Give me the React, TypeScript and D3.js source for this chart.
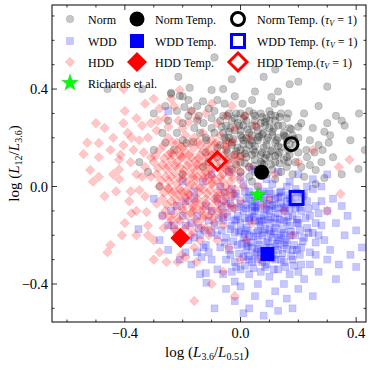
import React from 'react';
import * as d3 from 'd3';

// point clouds: [log(L3.6/L0.51), log(L12/L3.6)]
const normPoints: [number, number][] = [
  [-0.09,0.53],[0.12,0.48],[-0.215,0.45],[0.08,0.45],[0.3,0.41],[-0.46,0.40],[-0.34,0.40],[-0.176,0.405],[-0.1,0.396],[-0.24,0.385],[-0.06,0.40],[0.05,0.39],[0.13,0.39],[-0.2,0.37],[0.2,0.43],[-0.03,0.44],[0.17,0.42],
  [-0.24,0.38],[-0.21,0.372],[-0.18,0.355],[-0.194,0.326],[-0.17,0.31],[-0.22,0.31],[-0.145,0.29],[-0.18,0.29],[-0.11,0.32],[-0.128,0.26],[-0.08,0.355],[-0.055,0.34],[-0.02,0.37],[0.007,0.34],[0.04,0.355],[0.107,0.367],[0.14,0.347],[0.118,0.34],[-0.13,0.35],[-0.09,0.31],[-0.06,0.29],[-0.15,0.33],[-0.26,0.33],[-0.3,0.3],[-0.25,0.27],
  [-0.35,0.1],[-0.28,0.0],[-0.2,0.19],[-0.187,0.178],[-0.163,0.183],[-0.118,0.19],[-0.14,0.22],[-0.1,0.24],[-0.16,0.24],[-0.12,0.14],[-0.22,0.22],[-0.26,0.18],[-0.3,0.15],[-0.08,0.12],[-0.2,0.05],[-0.32,0.06],[-0.13,0.08],
  [-0.07,0.27],[-0.05,0.25],[-0.04,0.3],[-0.02,0.28],[0.0,0.3],[0.02,0.27],[0.03,0.31],[0.05,0.29],[0.07,0.3],[0.09,0.28],[0.1,0.31],[0.12,0.29],[0.14,0.3],[0.16,0.28],
  [-0.06,0.22],[-0.04,0.2],[-0.02,0.23],[0.0,0.21],[0.01,0.25],[0.03,0.22],[0.04,0.25],[0.06,0.23],[0.07,0.26],[0.08,0.22],[0.1,0.24],[0.11,0.21],[0.13,0.25],[0.15,0.22],[0.17,0.24],[0.18,0.21],
  [-0.07,0.17],[-0.05,0.15],[-0.03,0.18],[-0.01,0.16],[0.01,0.19],[0.02,0.15],[0.04,0.18],[0.05,0.14],[0.06,0.19],[0.08,0.16],[0.09,0.19],[0.11,0.15],[0.12,0.18],[0.14,0.16],[0.16,0.19],[0.19,0.17],
  [-0.04,0.11],[-0.02,0.13],[0.0,0.1],[0.02,0.12],[0.03,0.08],[0.05,0.11],[0.07,0.13],[0.08,0.09],[0.1,0.12],[0.12,0.1],[0.13,0.13],[0.15,0.11],[0.17,0.13],[0.19,0.1],
  [0.0,0.06],[0.03,0.04],[0.06,0.07],[0.09,0.05],[0.11,0.07],[0.14,0.06],[0.16,0.08],[0.04,0.02],[0.12,0.03],[-0.03,0.07],[0.18,0.05],
  [-0.01,0.26],[0.06,0.2],[0.03,0.17],[0.09,0.13],[0.0,0.15],[0.07,0.1],[0.13,0.2],[0.05,0.06],[-0.05,0.19],[0.1,0.27],[0.02,0.2],
  [0.22,0.3],[0.33,0.29],[0.35,0.27],[0.36,0.25],[0.41,0.3],[0.29,0.225],[0.24,0.19],[0.27,0.17],[0.305,0.18],[0.228,0.15],[0.256,0.14],[0.284,0.15],[0.28,0.1],[0.26,0.068],[0.24,0.088],[0.29,0.035],[0.408,0.072],[0.21,0.26],[0.25,0.24],[0.23,0.12],[0.21,0.08],[0.32,0.12],[0.38,0.19],[0.43,0.15],[0.27,0.33],[0.3,0.26],[0.2,0.2],[0.22,0.04],[0.35,0.05],[0.26,0.01],[0.31,0.21],
  [-0.045,0.29],[-0.015,0.3],[0.015,0.29],[0.045,0.3],[0.075,0.285],[0.105,0.295],[0.135,0.285],[0.165,0.3],
  [-0.065,0.245],[-0.035,0.24],[-0.005,0.25],[0.025,0.235],[0.055,0.245],[0.085,0.25],[0.115,0.24],[0.145,0.25],[0.175,0.235],[0.2,0.245],
  [-0.055,0.2],[-0.025,0.195],[0.005,0.2],[0.035,0.19],[0.065,0.205],[0.095,0.2],[0.125,0.19],[0.155,0.205],[0.185,0.195],
  [-0.045,0.14],[-0.015,0.145],[0.015,0.135],[0.045,0.15],[0.075,0.14],[0.105,0.145],[0.135,0.14],[0.165,0.15],[0.2,0.14],
  [-0.015,0.09],[0.015,0.095],[0.045,0.085],[0.075,0.095],[0.105,0.09],[0.135,0.095],[0.165,0.1],
  [-0.12,0.2],[-0.09,0.22],[-0.15,0.27],[-0.1,0.28],[-0.2,0.26],[-0.08,0.16],[-0.11,0.1],[-0.27,0.22],[-0.23,0.15],
  [-0.03,0.27],[0.01,0.28],[0.05,0.27],[0.085,0.265],[0.12,0.27],
  [-0.04,0.225],[0.0,0.23],[0.04,0.21],[0.075,0.215],[0.11,0.225],[0.15,0.21],
  [-0.03,0.17],[0.01,0.175],[0.05,0.165],[0.09,0.17],[0.13,0.165],[0.17,0.175],
  [0.0,0.125],[0.04,0.13],[0.085,0.115],[0.12,0.125],[0.16,0.12],
];

const wddPoints: [number, number][] = [
  [-0.25,0.31],[-0.353,-0.175],[-0.25,-0.16],[-0.19,-0.16],[-0.128,-0.25],[-0.135,-0.29],[-0.12,-0.355],[-0.118,-0.395],[-0.145,-0.17],[-0.125,-0.18],[-0.3,-0.05],[-0.22,-0.08],[-0.2,0.02],[-0.16,-0.05],[-0.1,0.05],[-0.28,-0.22],
  [-0.05,-0.42],[-0.02,-0.47],[0.01,-0.52],[0.03,-0.5],[0.05,-0.45],[0.08,-0.53],[0.1,-0.48],[0.13,-0.51],[0.16,-0.46],[0.18,-0.5],[-0.09,-0.5],[0.06,-0.4],[0.12,-0.43],[0.2,-0.42],[0.0,-0.41],[-0.06,-0.36],[0.22,-0.38],[0.15,-0.4],[0.25,-0.45],[-0.02,-0.39],
  [0.3,-0.1],[0.33,-0.15],[0.36,-0.2],[0.4,-0.18],[0.38,-0.28],[0.34,-0.32],[0.42,-0.25],[0.3,-0.3],[0.27,-0.35],[0.32,-0.05],[0.35,-0.08],[0.28,0.0],[0.3,0.05],[0.25,0.03],[0.37,-0.12],[0.29,-0.22],[0.31,-0.26],[0.26,-0.28],[0.4,-0.33],[0.33,-0.38],
  [-0.04,0.06],[0.0,0.04],[0.04,0.07],[0.09,0.03],[0.13,0.06],[0.17,0.02],[0.2,0.05],[0.23,0.0],
  [-0.07,0.0],[-0.03,-0.01],[0.01,0.01],[0.03,-0.02],[0.06,0.0],[0.08,-0.03],[0.11,0.01],[0.14,-0.02],[0.16,0.0],[0.19,-0.01],[0.22,-0.03],[0.25,-0.01],
  [-0.08,-0.05],[-0.05,-0.06],[-0.02,-0.04],[0.0,-0.07],[0.02,-0.05],[0.05,-0.06],[0.07,-0.04],[0.09,-0.07],[0.12,-0.05],[0.14,-0.07],[0.17,-0.05],[0.2,-0.07],[0.23,-0.06],[0.26,-0.08],
  [-0.1,-0.1],[-0.06,-0.11],[-0.03,-0.09],[-0.01,-0.12],[0.01,-0.1],[0.04,-0.11],[0.06,-0.09],[0.08,-0.12],[0.1,-0.1],[0.13,-0.11],[0.15,-0.09],[0.18,-0.12],[0.21,-0.1],[0.24,-0.12],[0.27,-0.11],
  [-0.09,-0.16],[-0.06,-0.14],[-0.03,-0.16],[0.0,-0.15],[0.02,-0.17],[0.05,-0.14],[0.07,-0.16],[0.1,-0.15],[0.12,-0.17],[0.15,-0.14],[0.17,-0.16],[0.2,-0.15],[0.23,-0.17],[0.26,-0.15],
  [-0.08,-0.2],[-0.05,-0.21],[-0.02,-0.19],[0.01,-0.21],[0.03,-0.2],[0.06,-0.22],[0.08,-0.19],[0.11,-0.21],[0.14,-0.2],[0.16,-0.22],[0.19,-0.2],[0.22,-0.21],[0.25,-0.19],
  [-0.07,-0.25],[-0.04,-0.26],[-0.01,-0.24],[0.02,-0.26],[0.04,-0.25],[0.07,-0.27],[0.1,-0.25],[0.13,-0.26],[0.15,-0.24],[0.18,-0.26],[0.21,-0.25],[0.24,-0.27],
  [-0.05,-0.3],[-0.02,-0.31],[0.01,-0.29],[0.04,-0.31],[0.06,-0.3],[0.09,-0.32],[0.12,-0.3],[0.15,-0.31],[0.18,-0.3],[0.21,-0.32],
  [-0.03,-0.35],[0.0,-0.34],[0.03,-0.36],[0.07,-0.35],[0.1,-0.37],[0.13,-0.34],[0.17,-0.36],[0.2,-0.35],
  [0.05,-0.1],[0.1,-0.18],[0.03,-0.13],[0.08,-0.06],[0.12,-0.13],[0.06,-0.18],[0.15,-0.19],[0.0,-0.18],[0.09,-0.23],[0.04,-0.08],[0.14,-0.04],[0.11,-0.08],[0.02,-0.23],[0.17,-0.09],[-0.02,-0.14],[0.07,-0.13],[0.13,-0.22],[0.19,-0.04],[0.05,-0.28],[0.1,-0.02],
  [-0.22,-0.2],[-0.18,-0.22],[-0.15,-0.12],[-0.12,-0.08],[-0.14,-0.2],[-0.11,-0.14],[-0.19,-0.27],[-0.17,-0.32],[-0.1,-0.3],[-0.12,-0.24],[-0.16,-0.02],[-0.13,0.02],[-0.2,-0.12],[-0.25,-0.26],
  [-0.055,-0.025],[-0.015,-0.03],[0.015,-0.02],[0.045,-0.035],[0.075,-0.02],[0.105,-0.03],[0.135,-0.025],[0.165,-0.035],[0.195,-0.025],[0.215,-0.04],
  [-0.065,-0.08],[-0.035,-0.07],[-0.005,-0.085],[0.025,-0.075],[0.055,-0.08],[0.085,-0.09],[0.115,-0.075],[0.145,-0.085],[0.175,-0.07],[0.205,-0.085],[0.235,-0.09],
  [-0.075,-0.13],[-0.045,-0.125],[-0.015,-0.135],[0.015,-0.13],[0.045,-0.125],[0.075,-0.14],[0.105,-0.125],[0.135,-0.135],[0.165,-0.125],[0.195,-0.135],[0.225,-0.13],
  [-0.065,-0.18],[-0.035,-0.175],[-0.005,-0.185],[0.025,-0.18],[0.055,-0.19],[0.085,-0.175],[0.115,-0.185],[0.145,-0.175],[0.175,-0.185],[0.205,-0.18],[0.235,-0.19],
  [-0.055,-0.23],[-0.025,-0.225],[0.005,-0.235],[0.035,-0.23],[0.065,-0.24],[0.095,-0.225],[0.125,-0.235],[0.155,-0.23],[0.185,-0.24],[0.215,-0.225],
  [-0.035,-0.28],[-0.005,-0.275],[0.025,-0.285],[0.055,-0.27],[0.085,-0.285],[0.115,-0.28],[0.145,-0.275],[0.175,-0.285],[0.205,-0.28],
  [-0.015,-0.33],[0.015,-0.325],[0.045,-0.335],[0.085,-0.33],[0.115,-0.34],[0.155,-0.33],[0.185,-0.325],
  [-0.24,-0.1],[-0.21,-0.3],[-0.17,-0.15],[-0.15,-0.27],[-0.1,-0.19],[-0.08,-0.34],[-0.23,-0.16],[-0.19,-0.06],[-0.14,-0.36],[-0.27,-0.12],[-0.11,-0.27],[-0.16,-0.21],
  [0.03,-0.045],[0.06,-0.05],[0.1,-0.055],[0.13,-0.045],[0.16,-0.06],
  [0.02,-0.09],[0.05,-0.085],[0.09,-0.095],[0.12,-0.09],[0.155,-0.1],[0.19,-0.09],
  [0.03,-0.14],[0.065,-0.145],[0.095,-0.135],[0.125,-0.15],[0.16,-0.145],[0.195,-0.15],
  [0.015,-0.195],[0.045,-0.205],[0.075,-0.2],[0.105,-0.195],[0.135,-0.21],[0.17,-0.2],
  [0.025,-0.245],[0.06,-0.255],[0.09,-0.26],[0.12,-0.245],[0.16,-0.255],[0.195,-0.26],
  [0.03,-0.3],[0.075,-0.31],[0.11,-0.295],[0.14,-0.3],
  [0.27,-0.2],[0.28,-0.16],[0.26,-0.23],[0.24,-0.32],[0.28,-0.06],
];

const hddPoints: [number, number][] = [
  [-0.543,0.133],[-0.52,0.068],[-0.49,0.178],[-0.49,0.12],[-0.51,0.02],[-0.49,0.04],[-0.47,-0.04],[-0.44,0.2],[-0.42,0.11],[-0.415,0.13],[-0.42,0.07],[-0.42,0.03],[-0.405,0.17],[-0.4,0.31],[-0.405,0.26],[-0.385,-0.06],[-0.37,0.15],[-0.377,0.2],[-0.34,0.25],[-0.33,0.34],[-0.35,0.19],[-0.31,0.26],[-0.285,0.27],[-0.26,0.28],[-0.25,0.245],[-0.215,0.27],[-0.18,0.265],[-0.29,0.23],[-0.32,0.2],[-0.335,0.14],[-0.31,0.12],[-0.33,0.08],[-0.34,0.04],[-0.31,0.04],[-0.35,-0.015],
  [-0.405,0.4],[-0.21,0.396],[-0.3,0.36],[-0.23,0.33],
  [-0.377,-0.11],[-0.36,-0.2],[-0.46,-0.27],[-0.45,-0.24],[-0.32,-0.16],[-0.32,-0.2],[-0.3,-0.22],[-0.28,-0.27],[-0.256,-0.31],[-0.218,-0.31],[-0.204,-0.28],[-0.19,-0.29],[-0.16,-0.25],[-0.152,-0.31],[-0.16,-0.47],[-0.266,-0.17],[-0.325,-0.105],[-0.27,-0.12],[-0.24,-0.14],[-0.22,-0.18],[-0.29,-0.07],[-0.33,-0.04],
  [-0.25,0.2],[-0.22,0.18],[-0.19,0.21],[-0.16,0.2],[-0.13,0.22],[-0.1,0.19],[-0.07,0.21],[-0.04,0.18],
  [-0.28,0.15],[-0.25,0.13],[-0.22,0.15],[-0.19,0.14],[-0.16,0.16],[-0.14,0.13],[-0.11,0.15],[-0.08,0.14],[-0.05,0.16],[-0.02,0.13],
  [-0.3,0.1],[-0.27,0.09],[-0.24,0.11],[-0.21,0.08],[-0.18,0.1],[-0.15,0.09],[-0.12,0.11],[-0.1,0.08],[-0.07,0.1],[-0.04,0.09],[-0.01,0.11],
  [-0.29,0.05],[-0.26,0.04],[-0.23,0.06],[-0.2,0.03],[-0.17,0.05],[-0.15,0.04],[-0.12,0.06],[-0.09,0.03],[-0.06,0.05],[-0.03,0.04],[0.0,0.06],
  [-0.28,0.0],[-0.25,-0.01],[-0.22,0.01],[-0.19,-0.02],[-0.16,0.0],[-0.13,-0.01],[-0.1,0.01],[-0.08,-0.02],[-0.05,0.0],[-0.02,-0.01],[0.01,0.0],
  [-0.27,-0.05],[-0.24,-0.06],[-0.21,-0.04],[-0.18,-0.06],[-0.15,-0.05],[-0.12,-0.07],[-0.09,-0.05],[-0.06,-0.06],[-0.03,-0.04],[0.0,-0.06],
  [-0.26,-0.1],[-0.23,-0.11],[-0.2,-0.09],[-0.17,-0.11],[-0.14,-0.1],[-0.11,-0.12],[-0.08,-0.1],[-0.05,-0.11],[-0.02,-0.09],
  [-0.24,-0.16],[-0.21,-0.14],[-0.18,-0.16],[-0.15,-0.15],[-0.12,-0.17],[-0.09,-0.15],[-0.06,-0.16],
  [-0.2,-0.21],[-0.17,-0.2],[-0.14,-0.22],[-0.11,-0.2],[-0.08,-0.22],
  [-0.2,0.12],[-0.15,0.07],[-0.1,0.13],[-0.18,-0.03],[-0.12,0.02],[-0.07,-0.03],[-0.14,0.17],[-0.23,-0.02],[-0.05,0.07],[-0.16,-0.08],[-0.09,0.17],[-0.13,-0.13],[-0.2,0.16],[-0.03,-0.08],[-0.11,0.04],
  [-0.15,0.28],[-0.12,0.3],[-0.08,0.26],[-0.05,0.29],[-0.02,0.24],[0.014,0.29],[-0.1,0.34],[-0.17,0.31],[-0.2,0.24],[-0.03,0.33],[0.03,0.2],[0.05,0.25],
  [0.377,0.11],[0.34,0.08],[0.346,-0.03],[0.03,0.08],[0.06,0.0],[0.08,-0.08],[0.04,-0.15],[0.1,-0.05],[0.02,-0.22],[0.12,0.05],[0.15,-0.1],[0.07,-0.3],[0.2,0.1],[0.18,-0.2],[0.25,0.15],[0.3,-0.1],
  [-0.04,-0.25],[0.0,-0.3],[-0.06,-0.35],[-0.1,-0.4],[-0.02,-0.45],
  [-0.265,0.17],[-0.235,0.18],[-0.205,0.165],[-0.175,0.18],[-0.145,0.185],[-0.115,0.17],[-0.085,0.18],[-0.055,0.17],[-0.025,0.185],
  [-0.295,0.125],[-0.265,0.115],[-0.235,0.13],[-0.205,0.12],[-0.175,0.135],[-0.145,0.115],[-0.115,0.125],[-0.085,0.12],[-0.055,0.13],[-0.025,0.115],[0.005,0.125],
  [-0.285,0.075],[-0.255,0.07],[-0.225,0.085],[-0.195,0.065],[-0.165,0.075],[-0.135,0.085],[-0.105,0.065],[-0.075,0.075],[-0.045,0.065],[-0.015,0.08],
  [-0.275,0.025],[-0.245,0.02],[-0.215,0.035],[-0.185,0.02],[-0.155,0.025],[-0.125,0.035],[-0.095,0.015],[-0.065,0.025],[-0.035,0.02],[-0.005,0.03],
  [-0.265,-0.025],[-0.235,-0.03],[-0.205,-0.02],[-0.175,-0.035],[-0.145,-0.025],[-0.115,-0.03],[-0.085,-0.04],[-0.055,-0.025],[-0.025,-0.03],
  [-0.255,-0.075],[-0.225,-0.08],[-0.195,-0.07],[-0.165,-0.085],[-0.135,-0.075],[-0.105,-0.085],[-0.075,-0.07],[-0.045,-0.08],
  [-0.245,-0.125],[-0.215,-0.13],[-0.185,-0.12],[-0.155,-0.135],[-0.125,-0.12],[-0.095,-0.13],[-0.065,-0.125],
  [-0.225,-0.18],[-0.195,-0.175],[-0.165,-0.185],[-0.135,-0.17],[-0.105,-0.18],
  [-0.45,0.15],[-0.47,0.24],[-0.44,0.05],[-0.38,0.1],[-0.36,0.28],[-0.39,0.22],[-0.43,-0.02],[-0.4,-0.15],[-0.36,0.05],[-0.38,-0.02],[-0.28,0.32],[-0.24,0.36],[-0.5,0.26],[-0.53,0.18],[-0.36,-0.1],[-0.3,-0.3],[-0.41,-0.2],
  [-0.24,0.14],[-0.21,0.13],[-0.17,0.12],[-0.13,0.145],[-0.09,0.135],[-0.05,0.11],
  [-0.25,0.085],[-0.22,0.1],[-0.185,0.085],[-0.155,0.105],[-0.12,0.09],[-0.085,0.095],[-0.05,0.085],
  [-0.24,0.04],[-0.2,0.05],[-0.165,0.04],[-0.13,0.05],[-0.1,0.045],[-0.07,0.04],[-0.03,0.055],
  [-0.25,-0.005],[-0.21,-0.01],[-0.175,0.005],[-0.14,-0.005],[-0.105,-0.015],[-0.07,0.005],[-0.04,-0.015],
  [-0.22,-0.055],[-0.19,-0.045],[-0.155,-0.06],[-0.12,-0.05],[-0.085,-0.06],[-0.05,-0.045],
  [-0.2,-0.1],[-0.165,-0.1],[-0.13,-0.095],[-0.1,-0.105],[-0.07,-0.095],
];

// template positions
const normTemp: [number, number] = [0.073, 0.059];
const normTempTau: [number, number] = [0.176, 0.174];
const wddTemp: [number, number] = [0.093, -0.277];
const wddTempTau: [number, number] = [0.194, -0.047];
const hddTemp: [number, number] = [-0.208, -0.211];
const hddTempTau: [number, number] = [-0.08, 0.105];
const richards: [number, number] = [0.059, -0.035];

const majorTicks = [-0.4, 0.0, 0.4];
const tickLabels = ['\u22120.4', '0.0', '0.4'];

const W = 374;
const H = 374;
const left = 52, right = 366, top = 5, bottom = 322;

const x = d3.scaleLinear().domain([-0.652, 0.434]).range([left, right]);
const y = d3.scaleLinear().domain([-0.556, 0.745]).range([bottom, top]);

const serif = '"Liberation Serif", "DejaVu Serif", serif';
const diamond = (d: number) => `M0,${-d}L${d},0L0,${d}L${-d},0Z`;
const star = d3.symbol().type(d3.symbolStar).size(85)();
const alpha = 0.22;

const Marker = ({ kind, cx, cy }: { kind: string; cx: number; cy: number }) => {
  const t = `translate(${cx},${cy})`;
  switch (kind) {
    case 'norm':
      return <circle cx={cx} cy={cy} r={3.8} fill="#000" fillOpacity={alpha} stroke="#000" strokeOpacity={0.15} strokeWidth={0.8} />;
    case 'wdd':
      return <rect x={cx - 3.5} y={cy - 3.5} width={7} height={7} fill="#0000ff" fillOpacity={alpha} stroke="#0000ff" strokeOpacity={0.15} strokeWidth={0.8} />;
    case 'hdd':
      return <path transform={t} d={diamond(4.8)} fill="#ff0000" fillOpacity={alpha} stroke="#ff0000" strokeOpacity={0.15} strokeWidth={0.8} />;
    case 'normT':
      return <circle cx={cx} cy={cy} r={7.5} fill="#000" />;
    case 'normTT':
      return <circle cx={cx} cy={cy} r={6.5} fill="none" stroke="#000" strokeWidth={3} />;
    case 'wddT':
      return <rect x={cx - 7} y={cy - 7} width={14} height={14} fill="#0000ff" />;
    case 'wddTT':
      return <rect x={cx - 6.5} y={cy - 6.5} width={13} height={13} fill="none" stroke="#0000ff" strokeWidth={3} />;
    case 'hddT':
      return <path transform={t} d={diamond(10)} fill="#ff0000" />;
    case 'hddTT':
      return <path transform={t} d={diamond(9)} fill="none" stroke="#ff0000" strokeWidth={3} />;
    case 'star':
      return <path transform={t} d={star || ''} fill="#00ff00" stroke="#22cc22" strokeWidth={0.5} />;
    default:
      return null;
  }
};

const Sub = ({ children }: { children: string }) => (
  <tspan fontSize={10} dy={3}>{children}</tspan>
);

const legendRows = [
  [['norm', 'Norm'], ['normT', 'Norm Temp.'], ['normTT', 'Norm Temp. (']],
  [['wdd', 'WDD'], ['wddT', 'WDD Temp.'], ['wddTT', 'WDD Temp. (']],
  [['hdd', 'HDD'], ['hddT', 'HDD Temp.'], ['hddTT', 'HDD Temp.(']],
  [['star', 'Richards et al.']],
];
const legendY = [19, 41, 62, 83];
const legendMarkerX = [70, 137, 238];
const legendTextX = [88, 155, 257];

export default function App() {
  const xMinor = d3.range(-6, 5).map((i) => i / 10);
  const yMinor = d3.range(-5, 8).map((i) => i / 10);
  return (
    <svg width={W} height={H} style={{ position: 'absolute', left: 0, top: 0, background: '#fff' }} fontFamily={serif}>
      <defs>
        <clipPath id="plot">
          <rect x={left} y={top} width={right - left} height={bottom - top} />
        </clipPath>
      </defs>
      <g clipPath="url(#plot)">
        {normPoints.map((p, i) => <Marker key={'n' + i} kind="norm" cx={x(p[0])} cy={y(p[1])} />)}
        {wddPoints.map((p, i) => <Marker key={'w' + i} kind="wdd" cx={x(p[0])} cy={y(p[1])} />)}
        {hddPoints.map((p, i) => <Marker key={'h' + i} kind="hdd" cx={x(p[0])} cy={y(p[1])} />)}
        <Marker kind="normT" cx={x(normTemp[0])} cy={y(normTemp[1])} />
        <Marker kind="wddT" cx={x(wddTemp[0])} cy={y(wddTemp[1])} />
        <Marker kind="hddT" cx={x(hddTemp[0])} cy={y(hddTemp[1])} />
        <Marker kind="normTT" cx={x(normTempTau[0])} cy={y(normTempTau[1])} />
        <Marker kind="wddTT" cx={x(wddTempTau[0])} cy={y(wddTempTau[1])} />
        <Marker kind="hddTT" cx={x(hddTempTau[0])} cy={y(hddTempTau[1])} />
        <Marker kind="star" cx={x(richards[0])} cy={y(richards[1])} />
      </g>

      {/* legend */}
      <g fontSize={12}>
        {legendRows.map((row, r) =>
          row.map(([kind, label], c) => (
            <g key={r + '-' + c}>
              <Marker kind={kind} cx={legendMarkerX[c]} cy={legendY[r]} />
              <text x={legendTextX[c]} y={legendY[r] + 4.5}>
                {label}
                {c === 2 && (
                  <>
                    <tspan fontStyle="italic">τ</tspan>
                    <tspan fontStyle="italic" fontSize={8} dy={2.5}>V</tspan>
                    <tspan dy={-2.5}> = 1)</tspan>
                  </>
                )}
              </text>
            </g>
          ))
        )}
      </g>

      {/* frame and ticks */}
      <rect x={left} y={top} width={right - left} height={bottom - top} fill="none" stroke="#000" strokeWidth={1} />
      <g stroke="#000" strokeWidth={0.8}>
        {xMinor.map((v) => {
          const len = majorTicks.some((m) => Math.abs(m - v) < 1e-6) ? 5 : 2.5;
          return (
            <g key={'xt' + v}>
              <line x1={x(v)} x2={x(v)} y1={bottom} y2={bottom - len} />
              <line x1={x(v)} x2={x(v)} y1={top} y2={top + len} />
            </g>
          );
        })}
        {yMinor.map((v) => {
          const len = majorTicks.some((m) => Math.abs(m - v) < 1e-6) ? 5 : 2.5;
          return (
            <g key={'yt' + v}>
              <line x1={left} x2={left + len} y1={y(v)} y2={y(v)} />
              <line x1={right} x2={right - len} y1={y(v)} y2={y(v)} />
            </g>
          );
        })}
      </g>
      <g fontSize={14.5}>
        {majorTicks.map((v, i) => (
          <text key={'xl' + i} x={x(v)} y={bottom + 16} textAnchor="middle">{tickLabels[i]}</text>
        ))}
        {majorTicks.map((v, i) => (
          <text key={'yl' + i} x={left - 4} y={y(v) + 5} textAnchor="end">{tickLabels[i]}</text>
        ))}
      </g>

      {/* axis labels */}
      <text x={(left + right) / 2 - 2} y={357} textAnchor="middle" fontSize={15}>
        log (<tspan fontStyle="italic">L</tspan><Sub>3.6</Sub><tspan dy={-3}>/</tspan><tspan fontStyle="italic">L</tspan><Sub>0.51</Sub><tspan dy={-3}>)</tspan>
      </text>
      <text transform={`translate(19,${(top + bottom) / 2}) rotate(-90)`} textAnchor="middle" fontSize={15}>
        log (<tspan fontStyle="italic">L</tspan><Sub>12</Sub><tspan dy={-3}>/</tspan><tspan fontStyle="italic">L</tspan><Sub>3.6</Sub><tspan dy={-3}>)</tspan>
      </text>
    </svg>
  );
}
